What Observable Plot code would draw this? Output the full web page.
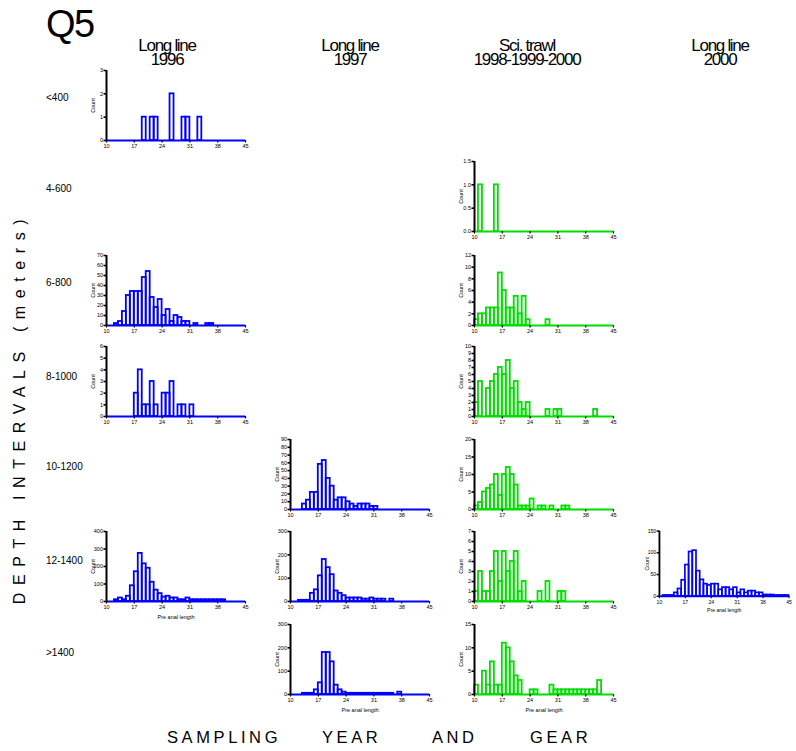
<!DOCTYPE html>
<html><head><meta charset="utf-8">
<script src="https://cdn.jsdelivr.net/npm/d3@7"></script>
<script src="https://cdn.jsdelivr.net/npm/@observablehq/plot@0.6"></script>
<style>
html,body{margin:0;padding:0;background:#fff;overflow:hidden;}
#root{position:relative;width:796px;height:751px;overflow:hidden;font-family:Arial,"Liberation Sans",sans-serif;color:#000;}
.t{position:absolute;white-space:pre;}
.panel{position:absolute;}
.panel svg{overflow:visible;}
</style></head><body><div id="root"></div><script>
// ---------- data (counts per 1-unit length bin, bins start at 10) ----------
const binStarts = d3.range(10, 45); // 10..44
const xTicks = [10, 17, 24, 31, 38, 45];
const columnTitles = [["Long line", "1996"], ["Long line", "1997"], ["Sci. trawl", "1998-1999-2000"], ["Long line", "2000"]];
const depthLabels = ["<400", "4-600", "6-800", "8-1000", "10-1200", "12-1400", ">1400"];
const bottomWords = ["SAMPLING", "YEAR", "AND", "GEAR"];
// bins:            10 11 12 13 14 15 16 17 18 19 20 21 22 23 24 25 26 27 28 29 30 31 32 33 34 35 36 37 38 39 40 41 42 43 44
const ll96_d400  = [ 0, 0, 0, 0, 0, 0, 0, 0, 0, 1, 0, 1, 1, 0, 0, 0, 2, 0, 0, 1, 1, 0, 0, 1, 0, 0, 0, 0, 0, 0, 0, 0, 0, 0, 0];
const st_d600    = [ 0, 1, 0, 0, 0, 1, 0, 0, 0, 0, 0, 0, 0, 0, 0, 0, 0, 0, 0, 0, 0, 0, 0, 0, 0, 0, 0, 0, 0, 0, 0, 0, 0, 0, 0];
const ll96_d800  = [ 0, 0, 2, 4,14,30,34,34,34,48,54,28,18,26,10,16, 4,10, 8, 4, 4, 0, 2, 0, 0, 2, 2, 0, 0, 0, 0, 0, 0, 0, 0];
const st_d800    = [ 1, 2, 2, 3, 3, 3, 9, 6, 3, 3, 5, 2, 5, 1, 0, 0, 0, 0, 1, 0, 0, 0, 0, 0, 0, 0, 0, 0, 0, 0, 0, 0, 0, 0, 0];
const ll96_d1000 = [ 0, 0, 0, 0, 0, 0, 0, 2, 4, 1, 1, 3, 1, 0, 2, 2, 3, 0, 1, 1, 0, 1, 0, 0, 0, 0, 0, 0, 0, 0, 0, 0, 0, 0, 0];
const st_d1000   = [ 2, 5, 0, 4, 5, 6, 7, 6, 8, 4, 5, 2, 1, 2, 0, 0, 0, 0, 1, 0, 1, 1, 0, 0, 0, 0, 0, 0, 0, 0, 1, 0, 0, 0, 0];
const ll97_d1200 = [ 0, 0, 0, 7,12,22,22,58,63,40,30,12,15,15,10, 7, 4, 7, 7, 7, 4, 4, 0, 0, 0, 0, 0, 0, 0, 0, 0, 0, 0, 0, 0];
const st_d1200   = [ 1, 2, 5, 6, 7,10, 4,10,12,10, 7, 1, 1, 1, 3, 0, 1, 1, 0, 1, 0, 0, 1, 1, 0, 0, 0, 0, 0, 0, 0, 0, 0, 0, 0];
const ll96_d1400 = [ 0, 0,10,20,10,30,90,170,275,215,190,110,65,45,25,30,20,20,10,10,20,10,10,10,10,10,10,10,10,10, 0, 0, 0, 0, 0];
const ll97_d1400 = [ 0, 0, 5, 5, 5,35,50,110,180,145,115,45,35,25,15,15,15,15,10,10,15,10,10,10, 0,10, 0, 0, 0, 0, 0, 0, 0, 0, 0];
const st_d1400   = [ 1, 3, 1, 1, 3, 5, 2, 5, 3, 4, 5, 1, 2, 0, 0, 0, 1, 0, 2, 0, 0, 1, 1, 0, 0, 0, 0, 0, 0, 0, 0, 0, 0, 0, 0];
const ll00_d1400 = [ 0, 2, 2, 2, 8,17,37,72,102,105,58,38,28,25,28,28,15,20,20,15,20, 8,15, 8,12,12, 8, 8, 3, 3, 3, 2, 2, 2, 2];
const ll97_dgt   = [ 0, 0, 0, 5, 5, 5,20,50,180,180,140,40,20,10, 5, 5, 5, 5, 5, 5, 5, 5, 5, 5, 5, 5, 0,10, 0, 0, 0, 0, 0, 0, 0];
const st_dgt     = [ 2, 0, 5, 2, 7, 2, 2,11,10, 7, 4, 3, 0, 0, 1, 1, 0, 0, 0, 2, 1, 1, 1, 1, 1, 1, 1, 1, 1, 1, 1, 3, 0, 0, 0];

const BLUE = "#0000ff", GREEN = "#00dd00";
// panel specs: [column, row, counts, yMax, yStep, color, tickFormat, showXLabel]
const panels = [
  [0, 0, ll96_d400, 3, 1, BLUE, null, false],
  [2, 1, st_d600, 1.5, 0.5, GREEN, ".1f", false],
  [0, 2, ll96_d800, 70, 10, BLUE, null, false],
  [2, 2, st_d800, 12, 2, GREEN, null, false],
  [0, 3, ll96_d1000, 6, 1, BLUE, null, false],
  [2, 3, st_d1000, 10, 1, GREEN, null, false],
  [1, 4, ll97_d1200, 90, 10, BLUE, null, false],
  [2, 4, st_d1200, 20, 5, GREEN, null, false],
  [0, 5, ll96_d1400, 400, 100, BLUE, null, true],
  [1, 5, ll97_d1400, 300, 100, BLUE, null, false],
  [2, 5, st_d1400, 7, 1, GREEN, null, false],
  [3, 5, ll00_d1400, 150, 50, BLUE, null, true],
  [1, 6, ll97_dgt, 300, 100, BLUE, null, true],
  [2, 6, st_dgt, 15, 5, GREEN, null, true]
];

// ---------- layout ----------
const root = document.getElementById("root");
const colX = [106, 290, 474, 661];
const rowY = [70, 161, 255, 346, 439, 531, 624];
const innerW = 139, innerH = 70;
const mL = 30, mR = 8, mT = 6;

function addText(txt, css) {
  const d = document.createElement("div");
  d.className = "t";
  d.textContent = txt;
  Object.assign(d.style, css);
  root.appendChild(d);
  return d;
}

addText("Q5", {left: "46px", top: "3px", fontSize: "38px", letterSpacing: "-1.5px", lineHeight: "42px"});
const titleCenters = [167, 350, 527, 720];
columnTitles.forEach((lines, i) => {
  addText(lines.join("\n"), {left: (titleCenters[i] - 100) + "px", width: "200px", textAlign: "center",
    top: "39px", fontSize: "17px", letterSpacing: "-1.3px", lineHeight: "14px"});
});
const labelY = [98, 189, 283, 377, 467, 561, 653];
depthLabels.forEach((s, i) => addText(s, {left: "46px", top: (labelY[i] - 6) + "px", fontSize: "10px", lineHeight: "12px"}));

addText("DEPTH INTERVALS (meters)", {left: "20px", top: "408px", fontSize: "16px",
  letterSpacing: "7.6px", lineHeight: "18px", transform: "translate(-50%,-50%) rotate(-90deg)"});
const wordX = [167, 322, 432, 530];
bottomWords.forEach((w, i) => addText(w, {left: wordX[i] + "px", top: "728px", fontSize: "16.5px",
  letterSpacing: "3.6px", lineHeight: "18px"}));

panels.forEach(([c, r, counts, yMax, yStep, color, fmt, hasXL]) => {
  const bins = binStarts.map((b, i) => ({x1: b, x2: b + 1, count: counts[i]})).filter(d => d.count > 0);
  const yt = d3.range(0, yMax + yStep / 2, yStep);
  const mB = hasXL ? 26 : 20;
  const chart = Plot.plot({
    width: mL + innerW + mR, height: mT + innerH + mB,
    marginLeft: mL, marginRight: mR, marginTop: mT, marginBottom: mB,
    style: {fontFamily: "Arial, 'Liberation Sans', sans-serif", background: "transparent", color: "#000", overflow: "visible"},
    x: {domain: [10, 45]},
    y: {domain: [0, yMax]},
    marks: [
      Plot.ruleY([0], {stroke: color, strokeWidth: 2.2}),
      Plot.rectY(bins, {x1: "x1", x2: "x2", y: "count", fill: "none", stroke: color, strokeWidth: 1.8}),
      Plot.ruleX([10], {stroke: "#000", strokeWidth: 2}),
      Plot.axisY({ticks: yt, tickFormat: fmt ? d3.format(fmt) : d3.format("d"), tickSize: 2.5, tickPadding: 1,
        fontSize: 5.5, strokeWidth: 1.6, label: "Count", labelAnchor: "center", labelArrow: "none", labelOffset: 15}),
      Plot.axisX({ticks: xTicks, tickFormat: d3.format("d"), tickSize: 2.5, tickPadding: 1.5, fontSize: 5.5,
        strokeWidth: 1.2, label: hasXL ? "Pre anal length" : null, labelAnchor: "center", labelArrow: "none", labelOffset: 17})
    ]
  });
  const wrap = document.createElement("div");
  wrap.className = "panel";
  wrap.style.left = (colX[c] - mL) + "px";
  wrap.style.top = (rowY[r] - mT) + "px";
  wrap.appendChild(chart);
  root.appendChild(wrap);
});
</script></body></html>
